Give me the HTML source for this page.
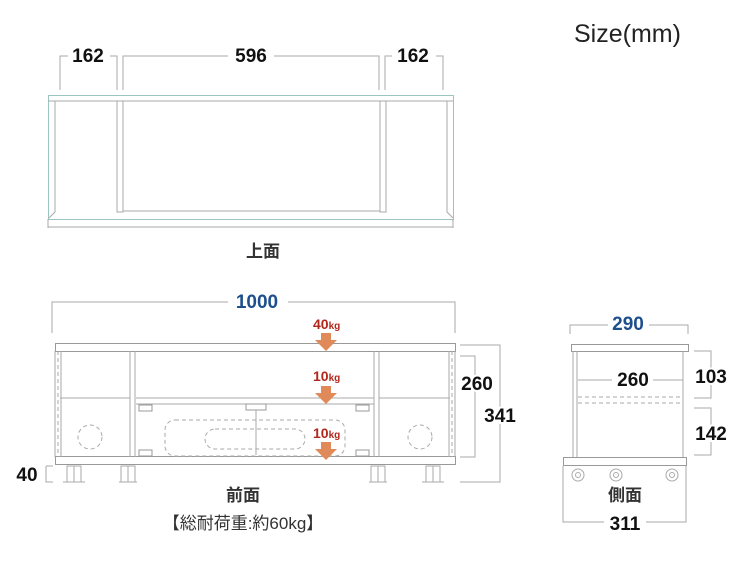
<!DOCTYPE html>
<html><head><meta charset="utf-8"><style>
html,body{margin:0;padding:0;background:#fff;width:750px;height:562px;overflow:hidden}
svg{display:block}
text{font-family:"Liberation Sans","Noto Sans CJK JP",sans-serif}
.b{font-weight:bold;font-size:19px;fill:#111}
.bl{font-weight:bold;font-size:19px;fill:#1d4f8c}
.r{font-weight:bold;fill:#b0281c}
.l{stroke:#aaa;stroke-width:1;fill:none}
.g{stroke:#999;stroke-width:1;fill:#fff}
.d{stroke:#aaa;stroke-width:1;fill:none;stroke-dasharray:4 3}
</style></head><body>
<svg width="750" height="562" viewBox="0 0 750 562">
<text x="574" y="42" font-size="25" fill="#222">Size(mm)</text>

<text class="b" x="88" y="62" text-anchor="middle">162</text>
<text class="b" x="251" y="62" text-anchor="middle">596</text>
<text class="b" x="413" y="62" text-anchor="middle">162</text>
<path class="l" d="M60 90V56H68 M110 56H117V90 M123 90V56H228 M274 56H379V90 M385 90V56H392 M436 56H443V90"/>
<rect x="48.5" y="95.5" width="405" height="124" fill="none" stroke="#9bc5c0"/>
<path class="l" d="M48 101H453 M55 101V212L49 218 M447 101V212L453 218 M117 101V212H123V101 M380 101V212H386V101 M123 211H380 M48 227H453 M48 219V228 M453 219V228"/>
<text x="263" y="257" font-size="17" font-weight="bold" fill="#333" text-anchor="middle">上面</text>

<text class="bl" x="257" y="308" text-anchor="middle">1000</text>
<path class="l" d="M52 333V302H228 M288 302H455V333"/>
<path class="l" d="M460 345H500V482H460 M460 356H475V457H460"/>
<text class="b" x="477" y="390" text-anchor="middle" style="paint-order:stroke" stroke="#fff" stroke-width="4">260</text>
<text class="b" x="500" y="422" text-anchor="middle" style="paint-order:stroke" stroke="#fff" stroke-width="4">341</text>
<path class="l" d="M46 466H53 M46 466V482H53"/>
<text class="b" x="27" y="481" text-anchor="middle">40</text>

<rect class="g" x="55.5" y="343.5" width="400" height="8"/>
<rect class="g" x="55.5" y="456.5" width="400" height="8"/>
<path class="l" d="M55 351V457 M455 351V457 M61 351V457 M449 351V457 M130 351V457 M135 351V457 M374 351V457 M379 351V457 M60 398H130 M379 398H450 M136 398H374 M136 404H374"/>
<path class="d" d="M58 351V457 M452 351V457"/>
<line x1="256" y1="404" x2="256" y2="455" stroke="#aaa"/>
<rect x="139" y="405" width="13" height="6" class="g"/>
<rect x="356" y="405" width="13" height="6" class="g"/>
<rect x="139" y="450" width="13" height="6" class="g"/>
<rect x="356" y="450" width="13" height="6" class="g"/>
<rect x="246" y="404" width="20" height="6" class="g"/>
<rect class="d" x="165" y="420" width="180" height="36" rx="10"/>
<rect class="d" x="205" y="429" width="100" height="20" rx="10"/>
<circle class="d" cx="90" cy="437" r="12"/>
<circle class="d" cx="420" cy="437" r="12"/>
<g class="l">
<rect x="67" y="466" width="14" height="16"/><rect x="121" y="466" width="14" height="16"/>
<rect x="371" y="466" width="14" height="16"/><rect x="426" y="466" width="14" height="16"/>
<path d="M63 482H85 M119 482H137 M369 482H387 M422 482H444 M74 466V482 M128 466V482 M378 466V482 M433 466V482"/>
</g>
<g>
<text class="r" x="313" y="329" font-size="14">40<tspan font-size="10">kg</tspan></text>
<path d="M321 333h10v7h6l-11 11-11-11h6z" fill="#e08a5a"/>
<text class="r" x="313" y="381" font-size="14">10<tspan font-size="10">kg</tspan></text>
<path d="M321 386h10v7h6l-11 11-11-11h6z" fill="#e08a5a"/>
<text class="r" x="313" y="438" font-size="14">10<tspan font-size="10">kg</tspan></text>
<path d="M321 442h10v7h6l-11 11-11-11h6z" fill="#e08a5a"/>
</g>
<text x="243" y="501" font-size="17" font-weight="bold" fill="#333" text-anchor="middle">前面</text>
<text x="243" y="529" font-size="17" fill="#333" text-anchor="middle">【総耐荷重:約60kg】</text>

<text class="bl" x="628" y="330" text-anchor="middle">290</text>
<path class="l" d="M570 334V325H608 M649 325H688V334"/>
<rect class="g" x="571.5" y="344.5" width="117" height="7"/>
<path class="l" d="M573 351V457 M577 351V457 M683 351V457 M578 380H612 M653 380H683"/>
<text class="b" x="633" y="386" text-anchor="middle">260</text>
<path class="d" d="M578 397H683 M578 403H683"/>
<rect class="g" x="563.5" y="457.5" width="123" height="8"/>
<g class="l"><circle cx="578" cy="475" r="6"/><circle cx="616" cy="475" r="6"/><circle cx="672" cy="475" r="6"/>
<circle cx="578" cy="475" r="2.5"/><circle cx="616" cy="475" r="2.5"/><circle cx="672" cy="475" r="2.5"/></g>
<path class="l" d="M563 466V522H604 M646 522H686V466"/>
<path class="l" d="M694 351H711V398H694 M694 408H711V455H694"/>
<text class="b" x="711" y="383" text-anchor="middle" style="paint-order:stroke" stroke="#fff" stroke-width="4">103</text>
<text class="b" x="711" y="440" text-anchor="middle" style="paint-order:stroke" stroke="#fff" stroke-width="4">142</text>
<text x="625" y="501" font-size="17" font-weight="bold" fill="#333" text-anchor="middle">側面</text>
<text class="b" x="625" y="530" text-anchor="middle">311</text>
</svg>
</body></html>
